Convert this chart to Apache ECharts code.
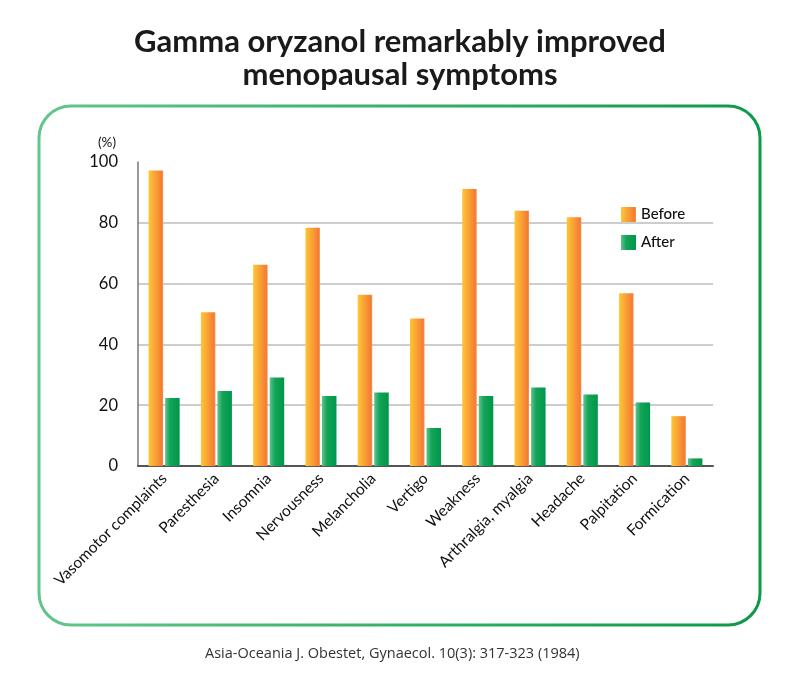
<!DOCTYPE html>
<html>
<head>
<meta charset="utf-8">
<script src="https://cdn.jsdelivr.net/npm/echarts@6/dist/echarts.min.js"></script>
<style>html,body{margin:0;padding:0;background:#fff;}#c{width:800px;height:697px;}</style>
</head>
<body>
<div id="c"></div>
<script>
var categories = ['Vasomotor complaints','Paresthesia','Insomnia','Nervousness','Melancholia','Vertigo','Weakness','Arthralgia, myalgia','Headache','Palpitation','Formication'];
var beforeValues = [97.2, 50.6, 66.2, 78.4, 56.3, 48.5, 91.1, 84.0, 81.8, 56.8, 16.4];
var afterValues = [22.4, 24.7, 29.1, 23.0, 24.2, 12.5, 23.0, 25.8, 23.5, 20.9, 2.5];
var yTicks = [0, 20, 40, 60, 80, 100];
var titleText = 'Gamma oryzanol remarkably improved\nmenopausal symptoms';
var sourceText = 'Asia-Oceania J. Obestet, Gynaecol. 10(3): 317-323 (1984)';

var chart = echarts.init(document.getElementById('c'));
var orange = new echarts.graphic.LinearGradient(0, 0, 1, 0, [
  {offset: 0, color: '#FEC633'}, {offset: 0.5, color: '#F99E36'}, {offset: 0.9, color: '#F47C32'}, {offset: 1, color: '#F7965E'}
]);
var green = new echarts.graphic.LinearGradient(0, 0, 1, 0, [
  {offset: 0, color: '#5EC48D'}, {offset: 0.35, color: '#13A458'}, {offset: 1, color: '#009649'}
]);
chart.setOption({
  animation: false,
  backgroundColor: '#fff',
  title: [{
    text: titleText,
    left: 'center', top: 20,
    textStyle: {fontFamily: 'Lato', fontWeight: 'bold', fontSize: 31, lineHeight: 33, color: '#1a1a1a'}
  }, {
    text: sourceText,
    left: 200, top: 641,
    textStyle: {fontFamily: 'Open Sans', fontWeight: 'normal', fontSize: 14.5, color: '#333'}
  }],
  graphic: [{
    type: 'rect',
    shape: {x: 39, y: 106, width: 721, height: 519, r: 32},
    style: {
      fill: 'none', lineWidth: 3,
      stroke: new echarts.graphic.LinearGradient(0, 0, 1, 0, [{offset: 0, color: '#62C68B'}, {offset: 1, color: '#0C9A48'}])
    },
    z: -1
  }],
  legend: {
    orient: 'vertical', left: 616, top: 202,
    itemWidth: 15, itemHeight: 15, itemGap: 13,
    icon: 'rect',
    textStyle: {fontFamily: 'Lato', fontSize: 15, fontWeight: 500, color: '#111'},
    data: ['Before', 'After']
  },
  grid: {left: 138, right: 87, top: 162, bottom: 231},
  xAxis: {
    type: 'category', data: categories,
    axisLine: {lineStyle: {color: '#555', width: 2}},
    axisTick: {show: false},
    axisLabel: {rotate: 45, interval: 0, margin: 10, fontFamily: 'Lato', fontSize: 15.5, color: '#111'}
  },
  yAxis: {
    type: 'value', min: yTicks[0], max: yTicks[yTicks.length - 1], interval: 20,
    name: '(%)', nameLocation: 'end', nameGap: 12,
    nameTextStyle: {fontFamily: 'Lato', fontSize: 13.5, color: '#111', align: 'right', padding: [0, 22, 0, 0]},
    axisLine: {show: true, lineStyle: {color: '#777', width: 1.5}},
    axisTick: {show: false},
    axisLabel: {margin: 20, fontFamily: 'Lato', fontSize: 16.5, color: '#111'},
    splitLine: {show: true, showMinLine: false, showMaxLine: false, lineStyle: {color: '#bdbdbd', width: 1.5}}
  },
  series: [{
    name: 'Before', type: 'bar', data: beforeValues,
    barWidth: 14.5, barGap: '14%',
    itemStyle: {color: orange}
  }, {
    name: 'After', type: 'bar', data: afterValues,
    barWidth: 14.5, barGap: '14%',
    itemStyle: {color: green}
  }]
});
</script>
</body>
</html>
